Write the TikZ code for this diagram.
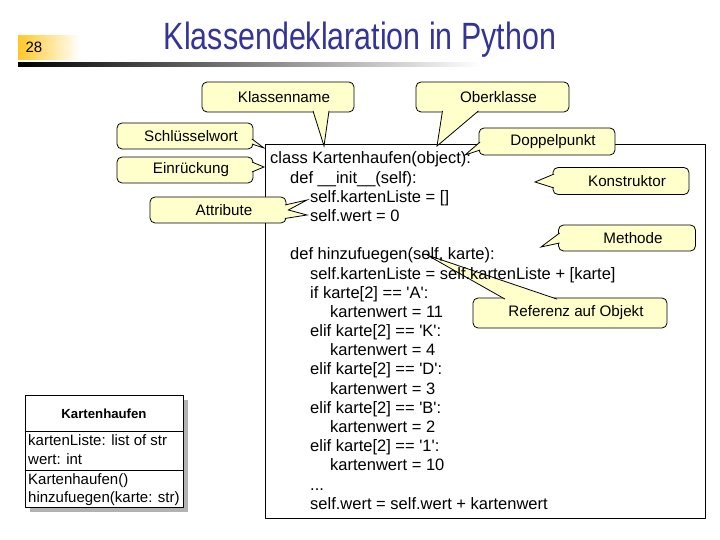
\documentclass[tikz,border=0pt]{standalone}
\usepackage{fontspec}
\setmainfont{Liberation Sans}
\usetikzlibrary{shadows}
\definecolor{notefill}{RGB}{255,255,204}
\definecolor{titleblue}{RGB}{51,51,153}
\definecolor{numgold}{RGB}{255,200,40}
\newcommand\codesize{\fontsize{16.5bp}{19bp}\selectfont}
\newcommand\notesize{\fontsize{15.2bp}{18bp}\selectfont}
\newcommand\umlsize{\fontsize{15bp}{18bp}\selectfont}
\begin{document}
\begin{tikzpicture}[line join=bevel,
  note/.style={draw,fill=notefill,line width=0.8bp,rounded corners=5bp,inner sep=0pt,font=\notesize,execute at begin node={\hspace*{12bp}}},
  pointer/.style={draw,fill=notefill,line width=0.8bp,line join=miter},
  codeline/.style={anchor=base west,inner sep=0pt,font=\codesize},
  umlline/.style={anchor=base west,inner sep=0pt,font=\umlsize}]
        %%
        \useasboundingbox (0bp,0bp) rectangle (720bp,540bp);
        \shade [left color=numgold,right color=white] (18bp,480bp) rectangle (80bp,504bp);
        \shade [left color=black,right color=white] (18bp,473bp) rectangle (480bp,477bp);
        \node (slide_no) at (34bp,493bp) [font=\fontsize{15bp}{17bp}\selectfont] {28};
        \node (title) at (360bp,490bp) [anchor=base,text=titleblue,font=\fontsize{38bp}{40bp}\selectfont] {\scalebox{0.8}[1]{Klassendeklaration in Python}};
        %%
        \node (codebox) at (485bp,208bp) [draw,line width=1bp,minimum width=440bp,minimum height=374bp,inner sep=0pt] {};
        %%
        \node (kname) at (278bp,443bp) [note,minimum width=152bp,minimum height=30bp] {Klassenname};
        \node (oberkl) at (492.5bp,443bp) [note,minimum width=153bp,minimum height=30bp] {Oberklasse};
        \node (doppel) at (547bp,398.5bp) [note,minimum width=136bp,minimum height=27bp] {Doppelpunkt};
        \node (konstr) at (621bp,359bp) [note,minimum width=136bp,minimum height=27bp] {Konstruktor};
        \node (methode) at (627bp,302bp) [note,minimum width=137bp,minimum height=26bp] {Methode};
        \node (referenz) at (570bp,227bp) [note,minimum width=194bp,minimum height=30bp] {Referenz auf Objekt};
        \node (schluessel) at (185bp,404bp) [note,minimum width=136bp,minimum height=26bp] {Schlüsselwort};
        \node (einrueck) at (185bp,370bp) [note,minimum width=136bp,minimum height=26bp] {Einrückung};
        \node (attribute) at (218bp,330bp) [note,minimum width=136bp,minimum height=26bp] {Attribute};
        \coordinate (tip_kname) at (324bp,394bp);
        \coordinate (tip_oberkl) at (437bp,394bp);
        \coordinate (tip_doppel) at (465bp,385bp);
        \coordinate (tip_konstr) at (535bp,358bp);
        \coordinate (tip_methode) at (541bp,293bp);
        \coordinate (tip_referenz) at (427bp,285bp);
        \coordinate (tip_schluessel) at (264bp,392bp);
        \coordinate (tip_einrueck) at (264bp,373bp);
        \coordinate (tip_attr_a) at (307bp,340bp);
        \coordinate (tip_attr_b) at (307bp,325bp);
        \filldraw [pointer] ([xshift=35bp,yshift=1.5bp]kname.south) -- (tip_kname) -- ([xshift=51bp,yshift=1.5bp]kname.south);
        \filldraw [pointer] ([xshift=-50bp,yshift=1.5bp]oberkl.south) -- (tip_oberkl) -- ([xshift=-14bp,yshift=1.5bp]oberkl.south);
        \filldraw [pointer] ([xshift=1.5bp,yshift=-0.5bp]doppel.west) -- (tip_doppel) -- ([xshift=1.5bp,yshift=-8.5bp]doppel.west);
        \filldraw [pointer] ([xshift=1.5bp,yshift=7bp]konstr.west) -- (tip_konstr) -- ([xshift=1.5bp,yshift=-7bp]konstr.west);
        \filldraw [pointer] ([xshift=1.5bp,yshift=5bp]methode.west) -- (tip_methode) -- ([xshift=1.5bp,yshift=-5bp]methode.west);
        \filldraw [pointer] ([xshift=-65bp,yshift=-1.5bp]referenz.north) -- (tip_referenz) -- ([xshift=-13bp,yshift=-1.5bp]referenz.north);
        \filldraw [pointer] ([xshift=-1.5bp,yshift=-3bp]schluessel.east) -- (tip_schluessel) -- ([xshift=-1.5bp,yshift=-8bp]schluessel.east);
        \filldraw [pointer] ([xshift=-1.5bp,yshift=8bp]einrueck.east) -- (tip_einrueck) -- ([xshift=-1.5bp,yshift=-2bp]einrueck.east);
        \filldraw [pointer] ([xshift=-1.5bp,yshift=5bp]attribute.east) -- (tip_attr_a) -- ([xshift=2bp]attribute.east) -- (tip_attr_b) -- ([xshift=-1.5bp,yshift=-8.5bp]attribute.east);
        %%
        \node (code_0) at (270bp,376bp) [codeline] {class Kartenhaufen(object):};
        \node (code_1) at (290bp,356.8bp) [codeline] {def \_\_init\_\_(self):};
        \node (code_2) at (310bp,337.6bp) [codeline] {self.kartenListe = []};
        \node (code_3) at (310bp,318.5bp) [codeline] {self.wert = 0};
        \node (code_5) at (290bp,280.1bp) [codeline] {def hinzufuegen(self, karte):};
        \node (code_6) at (310bp,260.9bp) [codeline] {self.kartenListe = self.kartenListe + [karte]};
        \node (code_7) at (310bp,241.7bp) [codeline] {if karte[2] == \textquotesingle A\textquotesingle:};
        \node (code_8) at (330bp,222.6bp) [codeline] {kartenwert = 11};
        \node (code_9) at (310bp,203.4bp) [codeline] {elif karte[2] == \textquotesingle K\textquotesingle:};
        \node (code_10) at (330bp,184.2bp) [codeline] {kartenwert = 4};
        \node (code_11) at (310bp,165bp) [codeline] {elif karte[2] == \textquotesingle D\textquotesingle:};
        \node (code_12) at (330bp,145.8bp) [codeline] {kartenwert = 3};
        \node (code_13) at (310bp,126.7bp) [codeline] {elif karte[2] == \textquotesingle B\textquotesingle:};
        \node (code_14) at (330bp,107.5bp) [codeline] {kartenwert = 2};
        \node (code_15) at (310bp,88.3bp) [codeline] {elif karte[2] == \textquotesingle 1\textquotesingle:};
        \node (code_16) at (330bp,69.1bp) [codeline] {kartenwert = 10};
        \node (code_17) at (310bp,49.9bp) [codeline] {...};
        \node (code_18) at (310bp,30.8bp) [codeline] {self.wert = self.wert + kartenwert};
        %%
        \node (cls) at (104bp,89bp) [draw,fill=white,line width=0.8bp,minimum width=158bp,minimum height=112bp,inner sep=0pt,drop shadow={shadow xshift=5bp,shadow yshift=-5bp,opacity=1,fill=black!30}] {};
        \draw [line width=0.8bp] ([yshift=-37bp]cls.north west) -- ([yshift=-37bp]cls.north east);
        \draw [line width=0.8bp] ([yshift=-76bp]cls.north west) -- ([yshift=-76bp]cls.north east);
        \node (cls_name) at (104bp,126bp) [font=\bfseries\fontsize{13.2bp}{15bp}\selectfont] {Kartenhaufen};
        \node (cls_attr_1) at (28bp,94.3bp) [umlline] {kartenListe: list of str};
        \node (cls_attr_2) at (28bp,75bp) [umlline] {wert: int};
        \node (cls_op_1) at (28bp,55.7bp) [umlline] {Kartenhaufen()};
        \node (cls_op_2) at (28bp,37.7bp) [umlline] {hinzufuegen(karte: str)};
        %
\end{tikzpicture}
\end{document}
